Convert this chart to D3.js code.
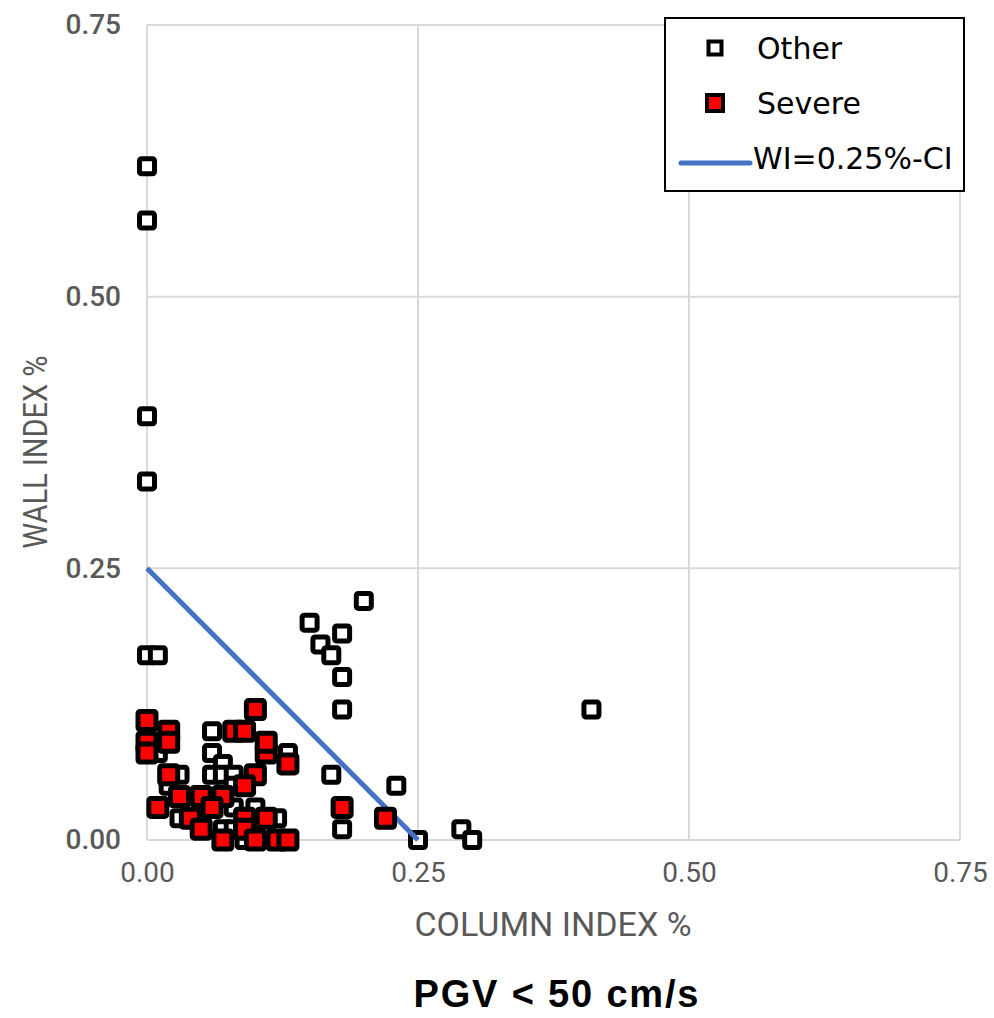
<!DOCTYPE html>
<html>
<head>
<meta charset="utf-8">
<script src="https://cdn.jsdelivr.net/npm/d3@7"></script>
<style>
  body { margin: 0; background: #fff; }
  text { font-family: Roboto, sans-serif; }
</style>
</head>
<body>
<svg id="chart"></svg>
<script>
// data (values in %)
const otherX = [0, 0, 0, 0, 0, 0.01, 0.15, 0.20, 0.16, 0.18, 0.17, 0.18, 0.18, 0.41, 0.17, 0.23, 0.18, 0.25, 0.29, 0.30,
                0.03, 0.06, 0.13, 0.06, 0.06, 0.07, 0.07, 0.08, 0.08, 0.02, 0.03, 0.07, 0.08, 0.08, 0.10, 0.12, 0.09, 0.01];
const otherY = [0.62, 0.57, 0.39, 0.33, 0.17, 0.17, 0.20, 0.22, 0.18, 0.19, 0.17, 0.15, 0.12, 0.12, 0.06, 0.05, 0.01, 0, 0.01, 0,
                0.06, 0.10, 0.08, 0.08, 0.06, 0.07, 0.06, 0.06, 0.05, 0.05, 0.02, 0.01, 0.01, 0.03, 0.03, 0.02, 0.00, 0.08];
const severeX = [0.10, 0, 0, 0, 0.02, 0.02, 0.02, 0.01, 0.03, 0.04, 0.05, 0.05, 0.07, 0.07, 0.06, 0.08, 0.09, 0.11, 0.11,
                 0.13, 0.10, 0.09, 0.09, 0.11, 0.09, 0.10, 0.12, 0.13, 0.18, 0.22];
const severeY = [0.12, 0.11, 0.09, 0.08, 0.10, 0.09, 0.06, 0.03, 0.04, 0.02, 0.04, 0.01, 0.04, 0.00, 0.03, 0.10, 0.10, 0.08, 0.09,
                 0.07, 0.06, 0.05, 0.02, 0.02, 0.01, 0.00, 0.00, 0.00, 0.03, 0.02];
const lineX = [0, 0.25];
const lineY = [0.25, 0];
const ticks = [0, 0.25, 0.5, 0.75];

const width = 994, height = 1018;
const margin = {top: 25, right: 34, bottom: 178, left: 147};

const svg = d3.select("#chart").attr("width", width).attr("height", height);

const x = d3.scaleLinear().domain([0, 0.75]).range([margin.left, width - margin.right]);
const y = d3.scaleLinear().domain([0, 0.75]).range([height - margin.bottom, margin.top]);

// grid
svg.append("g").selectAll("line").data(ticks).enter().append("line")
   .attr("x1", d => x(d)).attr("x2", d => x(d))
   .attr("y1", y(0)).attr("y2", y(0.75))
   .attr("stroke", "#d9d9d9").attr("stroke-width", 2);
svg.append("g").selectAll("line").data(ticks).enter().append("line")
   .attr("y1", d => y(d)).attr("y2", d => y(d))
   .attr("x1", x(0)).attr("x2", x(0.75))
   .attr("stroke", "#d9d9d9").attr("stroke-width", 2);

// axes (labels only)
const xAxis = svg.append("g").attr("transform", `translate(0,${y(0)})`)
   .call(d3.axisBottom(x).tickValues(ticks).tickFormat(d3.format(".2f")).tickSize(0).tickPadding(22));
const yAxis = svg.append("g").attr("transform", `translate(${x(0)},0)`)
   .call(d3.axisLeft(y).tickValues(ticks).tickFormat(d3.format(".2f")).tickSize(0).tickPadding(26));
[xAxis, yAxis].forEach(a => {
  a.select(".domain").remove();
  a.selectAll("text").attr("fill", "#595959").style("font-size", "28px").style("font-family", "Roboto, sans-serif");
});
yAxis.selectAll("text").style("font-weight", 500);

// axis titles
svg.append("text").attr("x", 553).attr("y", 936).attr("text-anchor", "middle")
   .attr("fill", "#595959").style("font-size", "34px").text("COLUMN INDEX %");
svg.append("text").attr("transform", "translate(47,452) rotate(-90)").attr("text-anchor", "middle")
   .attr("fill", "#595959").style("font-size", "34px")
   .attr("textLength", 193).attr("lengthAdjust", "spacingAndGlyphs").text("WALL INDEX %");

// chart title
svg.append("text").attr("x", 556).attr("y", 1007).attr("text-anchor", "middle")
   .attr("fill", "#000").style("font-size", "38px").style("font-weight", "bold")
   .style("font-family", "'Liberation Sans', Arial, sans-serif")
   .attr("textLength", 285).attr("lengthAdjust", "spacing")
   .text("PGV < 50 cm/s");

function markers(xs, ys, fill, size) {
  svg.append("g").selectAll("rect").data(d3.zip(xs, ys)).enter().append("rect")
     .attr("x", d => x(d[0]) - size / 2).attr("y", d => y(d[1]) - size / 2)
     .attr("width", size).attr("height", size).attr("rx", 2)
     .attr("fill", fill).attr("stroke", "#000").attr("stroke-width", 5);
}

markers(otherX, otherY, "#fff", 15);

svg.append("path").datum(d3.zip(lineX, lineY))
   .attr("d", d3.line().x(d => x(d[0])).y(d => y(d[1])))
   .attr("fill", "none").attr("stroke", "#4472c4").attr("stroke-width", 5);

markers(severeX, severeY, "#ff0000", 18);

// legend
const lg = svg.append("g");
lg.append("rect").attr("x", 665).attr("y", 18).attr("width", 299).attr("height", 173)
  .attr("fill", "#fff").attr("stroke", "#000").attr("stroke-width", 2);
const items = [{name: "Other", fill: "#fff", s: 13}, {name: "Severe", fill: "#ff0000", s: 16}, {name: "WI=0.25%-CI"}];
items.forEach((it, i) => {
  const cy = 48 + i * 55;
  if (it.fill) {
    lg.append("rect").attr("x", 715 - it.s / 2).attr("y", cy - it.s / 2).attr("width", it.s).attr("height", it.s)
      .attr("fill", it.fill).attr("stroke", "#000").attr("stroke-width", 4);
  } else {
    lg.append("line").attr("x1", 681).attr("x2", 750).attr("y1", cy + 5).attr("y2", cy + 5)
      .attr("stroke", "#4472c4").attr("stroke-width", 5).attr("stroke-linecap", "round");
  }
  lg.append("text").attr("x", i < 2 ? 757 : 753).attr("y", cy + 11)
    .style("font-size", "30px").style("font-family", "'DejaVu Sans', sans-serif")
    .attr("fill", "#000").text(it.name);
});
</script>
</body>
</html>
